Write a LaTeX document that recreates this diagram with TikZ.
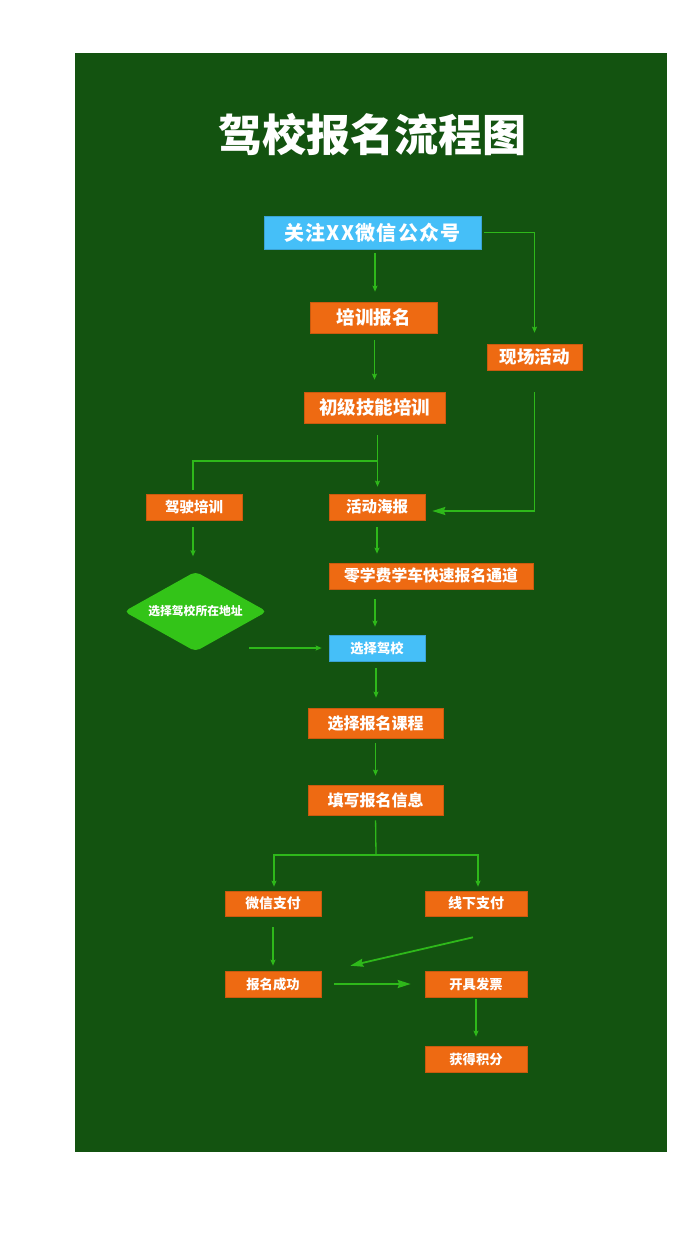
\documentclass[tikz,border=0pt]{standalone}
\usepackage{fontspec}
\newfontfamily\cjk{Noto Sans CJK SC}
\usetikzlibrary{arrows.meta,shapes.geometric,calc}
\definecolor{bggreen}{HTML}{135310}
\definecolor{boxorange}{HTML}{EE6A12}
\definecolor{boxblue}{HTML}{45BFF8}
\definecolor{dgreen}{HTML}{33C418}
\definecolor{lgreen}{HTML}{2EB81A}
\tikzset{
  box/.style={fill=boxorange, draw=boxorange!85!black, line width=0.6pt, text=white, inner sep=0pt, font=\cjk\bfseries},
  bbox/.style={box, fill=boxblue, draw=boxblue!85!black},
  con/.style={draw=lgreen, line width=1.3pt},
  arr/.style={con, -{Stealth[length=6pt,width=5pt,inset=1pt]}},
  bigarr/.style={draw=lgreen, line width=1.8pt, -{Stealth[length=13pt,width=8pt,inset=1.5pt]}},
}
\begin{document}
\begin{tikzpicture}[x=1pt,y=-1pt]
\useasboundingbox (0,0) rectangle (700,1242);
\fill[white] (0,0) rectangle (700,1242);
\fill[bggreen] (75,53) rectangle (667,1152);
\node[text=white, font=\cjk\bfseries\fontsize{44}{48}\selectfont] (title) at (372,135) {驾校报名流程图};

\node[bbox, minimum width=217pt, minimum height=33pt, font=\cjk\bfseries\fontsize{20}{22}\selectfont] (n1) at (372.5,232.5) {\addfontfeature{LetterSpace=6}关注XX微信公众号};
\node[box, minimum width=127pt, minimum height=31pt, font=\cjk\bfseries\fontsize{18.5}{20}\selectfont] (n2) at (373.5,317.5) {培训报名};
\node[box, minimum width=95pt, minimum height=26pt, font=\cjk\bfseries\fontsize{17.5}{19}\selectfont] (n3) at (534.5,357) {现场活动};
\node[box, minimum width=141pt, minimum height=31pt, font=\cjk\bfseries\fontsize{18.5}{20}\selectfont] (n4) at (374.5,407.5) {初级技能培训};
\node[box, minimum width=96pt, minimum height=26pt, font=\cjk\bfseries\fontsize{14.5}{16}\selectfont] (n5) at (194,507) {驾驶培训};
\node[box, minimum width=96pt, minimum height=26pt, font=\cjk\bfseries\fontsize{15.5}{17}\selectfont] (n6) at (377,507) {活动海报};
\node[box, minimum width=204pt, minimum height=26pt, font=\cjk\bfseries\fontsize{15.8}{17}\selectfont] (n7) at (431,576) {零学费学车快速报名通道};
\node[diamond, aspect=1.785, fill=dgreen, rounded corners=5pt, minimum width=143pt, minimum height=80pt, inner sep=0pt, text=white, font=\cjk\bfseries\fontsize{11.8}{13}\selectfont] (n8) at (195.5,611.5) {选择驾校所在地址};
\node[bbox, minimum width=96pt, minimum height=26pt, font=\cjk\bfseries\fontsize{13.3}{15}\selectfont] (n9) at (377,648) {选择驾校};
\node[box, minimum width=135pt, minimum height=30pt, font=\cjk\bfseries\fontsize{16}{18}\selectfont] (n10) at (375.5,723) {选择报名课程};
\node[box, minimum width=135pt, minimum height=30pt, font=\cjk\bfseries\fontsize{16}{18}\selectfont] (n11) at (375.5,800) {填写报名信息};
\node[box, minimum width=96pt, minimum height=25pt, font=\cjk\bfseries\fontsize{13.8}{15}\selectfont] (n12) at (273,903.5) {微信支付};
\node[box, minimum width=102pt, minimum height=25pt, font=\cjk\bfseries\fontsize{14}{15}\selectfont] (n13) at (476,903.5) {线下支付};
\node[box, minimum width=96pt, minimum height=26pt, font=\cjk\bfseries\fontsize{13.3}{15}\selectfont] (n14) at (273,984) {报名成功};
\node[box, minimum width=102pt, minimum height=26pt, font=\cjk\bfseries\fontsize{13.3}{15}\selectfont] (n15) at (476,984) {开具发票};
\node[box, minimum width=102pt, minimum height=26pt, font=\cjk\bfseries\fontsize{13.3}{15}\selectfont] (n16) at (476,1059) {获得积分};

\coordinate (j1) at (377.5,461);
\coordinate (j2) at (376,855);

\draw[arr, shorten <=4pt, shorten >=10pt] ([xshift=2.5pt]n1.south) -- ([xshift=2.5pt]n1.south |- n2.north);
\draw[arr, shorten <=3pt, shorten >=11pt] (n1.east) -| (n3.north);
\draw[arr, shorten <=7pt, shorten >=12pt] ([xshift=1pt]n2.south) -- ([xshift=1pt]n2.south |- n4.north);
\draw[arr, shorten <=12pt, shorten >=7pt] (n4.south -| j1) -- (n6.north -| j1);
\draw[con] (j1) -| ([yshift=4pt]n5.north -| 193,0);
\draw[bigarr, shorten <=22pt, shorten >=7pt] (n3.south) |- ([yshift=-4pt]n6.east);
\draw[arr, shorten <=7pt, shorten >=15pt] ([xshift=-1pt]n5.south) -- ([xshift=-1pt]n5.south |- n8.north);
\draw[arr, shorten <=7pt, shorten >=9pt] (n6.south) -- (n6.south |- n7.north);
\draw[arr, shorten <=10pt, shorten >=8pt] ([xshift=-2pt]n9.north |- n7.south) -- ([xshift=-2pt]n9.north);
\draw[arr, shorten >=7pt] ([xshift=-18pt]n9.west -| n8.east) -- (n9.west);
\draw[arr, shorten <=7pt, shorten >=10pt] ([xshift=-1pt]n9.south) -- ([xshift=-1pt]n9.south |- n10.north);
\draw[arr, shorten <=5pt, shorten >=9pt] (n10.south) -- (n11.north);
\draw[con, shorten <=5pt] (n11.south) -- (j2);
\draw[arr, shorten >=4pt] (j2) -| ([xshift=1pt]n12.north);
\draw[arr, shorten >=4pt] (j2) -| ([xshift=2pt]n13.north);
\draw[arr, shorten <=11pt, shorten >=5pt] (n12.south) -- (n14.north);
\draw[bigarr] ([shift={(-3pt,-21pt)}]n13.south) -- ([shift={(29pt,5pt)}]n14.north east);
\draw[bigarr, shorten <=13pt, shorten >=14pt] (n14.east) -- (n15.west);
\draw[arr, shorten <=2pt, shorten >=9pt] (n15.south) -- (n16.north);
\end{tikzpicture}
\end{document}
